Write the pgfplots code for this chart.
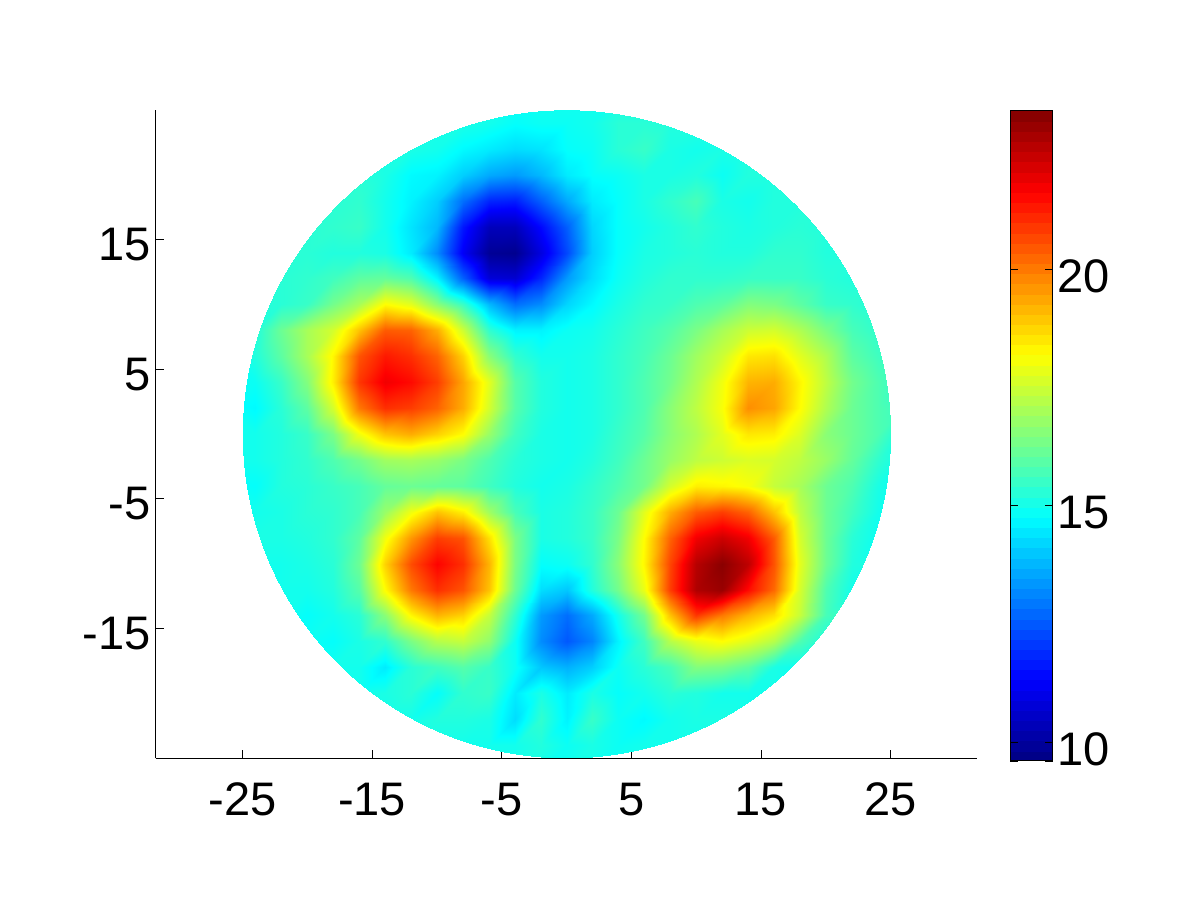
\documentclass[border=0pt]{standalone}
\usepackage{fontspec}
\setmainfont{Liberation Sans}
\usepackage{pgfplots}
\pgfplotsset{compat=1.18}
\begin{document}
\begin{tikzpicture}
\path[use as bounding box] (0,0) rectangle (12in,9in);
\begin{axis}[
  at={(1.557in,1.42in)}, anchor=south west,
  scale only axis, width=8.213in, height=6.48in,
  xmin=-31.7, xmax=31.67, ymin=-25, ymax=25,
  axis x line*=bottom, axis y line*=left,
  axis line style={line width=0.7pt,-},
  xtick={-25,-15,-5,5,15,25},
  xticklabels={-25,-15,-5,5,15,25},
  ytick={-25,-15,-5,5,15},
  yticklabels={,-15,-5,5,15},
  tick align=inside,
  major tick length=0.08in,
  tick style={black,line width=0.6pt},
  tick label style={font=\fontsize{34}{40}\selectfont},
  xticklabel style={yshift=-0.2in},
  yticklabel style={yshift=-0.05in},
  colormap/jet,
  point meta min=9.6, point meta max=23.34,
  colorbar sampled,
  colorbar style={
    samples=65,
    at={(1.0402,-0.0046)}, anchor=south west,
    scale only axis, width=0.425in, height=6.5in,
    ytick={10,15,20}, yticklabels={10,15,20},
    extra y ticks={9.6}, extra y tick labels={},
    yticklabel pos=right, ytick pos=both,
    tick align=inside, major tick length=0.08in,
    tick style={black,line width=0.6pt},
    tick label style={font=\fontsize{34}{40}\selectfont},
    yticklabel style={yshift=-0.07in},
    axis line style={line width=0.7pt},
  },
]
\clip (axis cs:0,0) circle [radius=25];
\addplot[surf, shader=interp, mesh/cols=27, mesh/ordering=x varies, point meta=explicit]
 table[row sep=crcr, header=false, x expr={-26+2*mod(\coordindex,27)}, y expr={26-2*floor(\coordindex/27)}, meta index=0]{
15\\15\\15\\15\\15\\15\\15\\15\\15\\15\\15\\15\\15\\15\\15\\15\\15\\15\\15\\15\\15\\15\\15\\15\\15\\15\\15\\
15.1\\15.1\\15.1\\15.1\\15.1\\15.1\\15.1\\15.1\\15.1\\15.1\\15\\14.8\\14.9\\14.9\\15\\15.3\\15.3\\15.2\\15.2\\15.2\\15.2\\15.2\\15.2\\15.2\\15.2\\15.2\\15.2\\
15.1\\15.1\\15.1\\15.1\\15.1\\15.1\\15.1\\15.1\\15\\14.7\\14.5\\14.3\\14.4\\14.8\\14.9\\15.3\\15.5\\15.1\\15\\15.1\\15.2\\15.2\\15.2\\15.2\\15.2\\15.2\\15.2\\
15.3\\15.3\\15.3\\15.3\\15.3\\15.3\\15.1\\14.7\\14.6\\14.1\\13.6\\13.4\\13.8\\14.5\\14.8\\14.9\\15.1\\15.1\\15.2\\14.9\\15.2\\15.2\\15.2\\15.2\\15.2\\15.2\\15.2\\
15.3\\15.3\\15.3\\15.3\\15.3\\15.4\\15\\14.6\\14.1\\12.8\\11.8\\11.7\\12.6\\13.6\\14.5\\14.8\\15.1\\15.4\\15.7\\15.1\\15\\15.2\\15.2\\15.2\\15.2\\15.2\\15.2\\
15.3\\15.3\\15.3\\15.3\\15.4\\15.5\\15\\14.4\\13.8\\11.6\\10.4\\10.4\\11.4\\12.6\\14.2\\14.8\\15\\15.2\\15.4\\15.2\\15.1\\15.2\\15.3\\15.2\\15.2\\15.2\\15.2\\
15.3\\15.3\\15.3\\15.3\\15.2\\15.2\\15.1\\14.5\\13.2\\11.2\\9.9\\9.8\\10.9\\12.3\\14.1\\14.8\\15.1\\15.2\\15.3\\15.2\\15.2\\15.4\\15.4\\15.2\\15.2\\15.2\\15.2\\
15.2\\15.2\\15.3\\15.4\\15.6\\16\\16.1\\15.8\\14.6\\12.6\\10.8\\10.7\\11.8\\13.4\\14.3\\14.9\\15.2\\15.4\\15.4\\15.4\\15.5\\15.5\\15.5\\15.3\\15.2\\15.2\\15.2\\
15.2\\15.2\\15.3\\15.5\\16.3\\17\\18.2\\17.8\\16.6\\15.5\\13.8\\12.8\\13.2\\14.2\\14.7\\15.1\\15.4\\15.5\\15.8\\16\\16.5\\16.4\\16\\15.5\\15.4\\15.2\\15.2\\
15.2\\15.2\\16.2\\17\\17.6\\19\\20.4\\20.3\\19.3\\17.5\\15.4\\14.6\\14.6\\14.9\\15\\15.3\\15.6\\15.9\\16.4\\17\\17.5\\17.6\\17.1\\16.4\\15.7\\15.4\\15.3\\
15\\15.2\\16\\17\\18.3\\20.5\\21.3\\21\\20.3\\18.8\\16.6\\15.4\\15\\15\\15.1\\15.4\\15.7\\16.2\\16.9\\17.5\\18.5\\18.6\\17.8\\17.1\\16\\15.6\\15.3\\
14.9\\14.9\\15.5\\16.5\\18.4\\20.9\\21.8\\21.5\\20.8\\19.4\\17.8\\15.9\\15.2\\15\\15.1\\15.4\\15.8\\16.3\\17.1\\18\\19.2\\19.3\\18.3\\17.3\\16.3\\15.8\\15.3\\
14.8\\14.7\\15.3\\16\\17.6\\20\\21\\20.8\\20.3\\19.3\\17.6\\15.9\\15.2\\15\\15.1\\15.4\\15.8\\16.6\\17.3\\18.1\\19.7\\19.4\\18.2\\17.1\\16.2\\15.8\\15.5\\
14.9\\15\\15.2\\15.5\\16.4\\18\\19\\19.3\\18.8\\18.2\\16.8\\15.6\\15.1\\15\\15.1\\15.5\\15.9\\16.6\\17.1\\17.8\\18.5\\18.4\\17.7\\16.6\\16.2\\15.8\\15\\
15\\15\\15.2\\15.4\\15.8\\16.3\\16.9\\17\\16.8\\16.4\\15.8\\15.3\\15.1\\15\\15.2\\15.6\\16.2\\16.8\\17.3\\17.5\\17.7\\17.6\\17.3\\16.8\\16.1\\15.4\\14.9\\
14.8\\14.8\\15.2\\15.3\\15.5\\15.7\\16.1\\16.2\\16.1\\16\\15.6\\15.2\\15\\15.1\\15.4\\15.8\\16.3\\17.6\\18.4\\18.3\\18.1\\17.4\\17\\16.2\\15.8\\15.1\\14.8\\
14.9\\15\\15.1\\15.3\\15.4\\15.7\\16.8\\18\\19\\18.4\\16.9\\15.7\\15.1\\15.2\\15.5\\16.2\\17.8\\19.3\\20.4\\20.8\\20.3\\19\\17.3\\16.2\\15.6\\15\\15\\
15\\15.1\\15.1\\15.2\\15.4\\16\\18\\19.6\\20.8\\20.5\\18.6\\16.4\\15.1\\15.2\\15.5\\16.4\\18.2\\20.3\\21.8\\22.3\\21.8\\20.4\\17.6\\16.2\\15.3\\14.9\\15\\
15\\15\\15\\15.1\\15.3\\16.2\\18.8\\20.6\\21.6\\21\\19.2\\16.4\\14.8\\14.9\\15.4\\16.6\\18.3\\20.7\\22.6\\23.2\\22.5\\20.5\\17.8\\16.2\\15.2\\15\\15\\
15\\15\\15\\15\\15.2\\15.9\\18.2\\20\\21\\20.5\\19\\16.2\\14.3\\14\\15.2\\16.3\\17.9\\20.8\\22.7\\23\\21.5\\20.2\\17.6\\15.8\\15\\15\\15\\
15\\15\\15\\14.8\\15\\15.3\\16.6\\18.3\\19.2\\18.8\\17.4\\15.4\\13.4\\12.8\\13.6\\15\\16.3\\19\\20.9\\20\\19.2\\18.6\\17.4\\15.7\\15.3\\15\\15\\
15\\15\\15\\14.9\\14.8\\15.1\\15.4\\16.4\\17.2\\17.4\\16.7\\14.9\\13.2\\12.5\\13.1\\14.6\\15.6\\17.2\\17.9\\18.2\\17.8\\17.2\\15.8\\15.1\\15\\15\\15\\
15\\15\\15\\15\\15\\15\\14.5\\15.3\\15.6\\15.9\\15.5\\14.9\\14\\13.7\\14.1\\14.9\\15.3\\15.7\\16.5\\16.4\\16\\15.1\\14.9\\15.2\\15\\15\\15\\
15\\15\\15\\15\\15\\15\\15.1\\15.3\\14.8\\15.4\\15.5\\14.5\\15.1\\14.5\\15.1\\14.8\\15\\15.3\\15.2\\15\\15\\15\\15\\15\\15\\15\\15\\
15\\15\\15\\15\\15\\15\\15\\15\\15.2\\15.2\\15.1\\14.3\\15.4\\14.6\\15.5\\14.9\\14.7\\15\\15.1\\15.1\\15\\15\\15\\15\\15\\15\\15\\
15\\15\\15\\15\\15\\15\\15\\15\\15\\15\\15\\15\\15.2\\14.9\\15.1\\14.9\\15\\15\\15\\15\\15\\15\\15\\15\\15\\15\\15\\
15\\15\\15\\15\\15\\15\\15\\15\\15\\15\\15\\15\\15\\15\\15\\15\\15\\15\\15\\15\\15\\15\\15\\15\\15\\15\\15\\
};
\end{axis}
\end{tikzpicture}
\end{document}
